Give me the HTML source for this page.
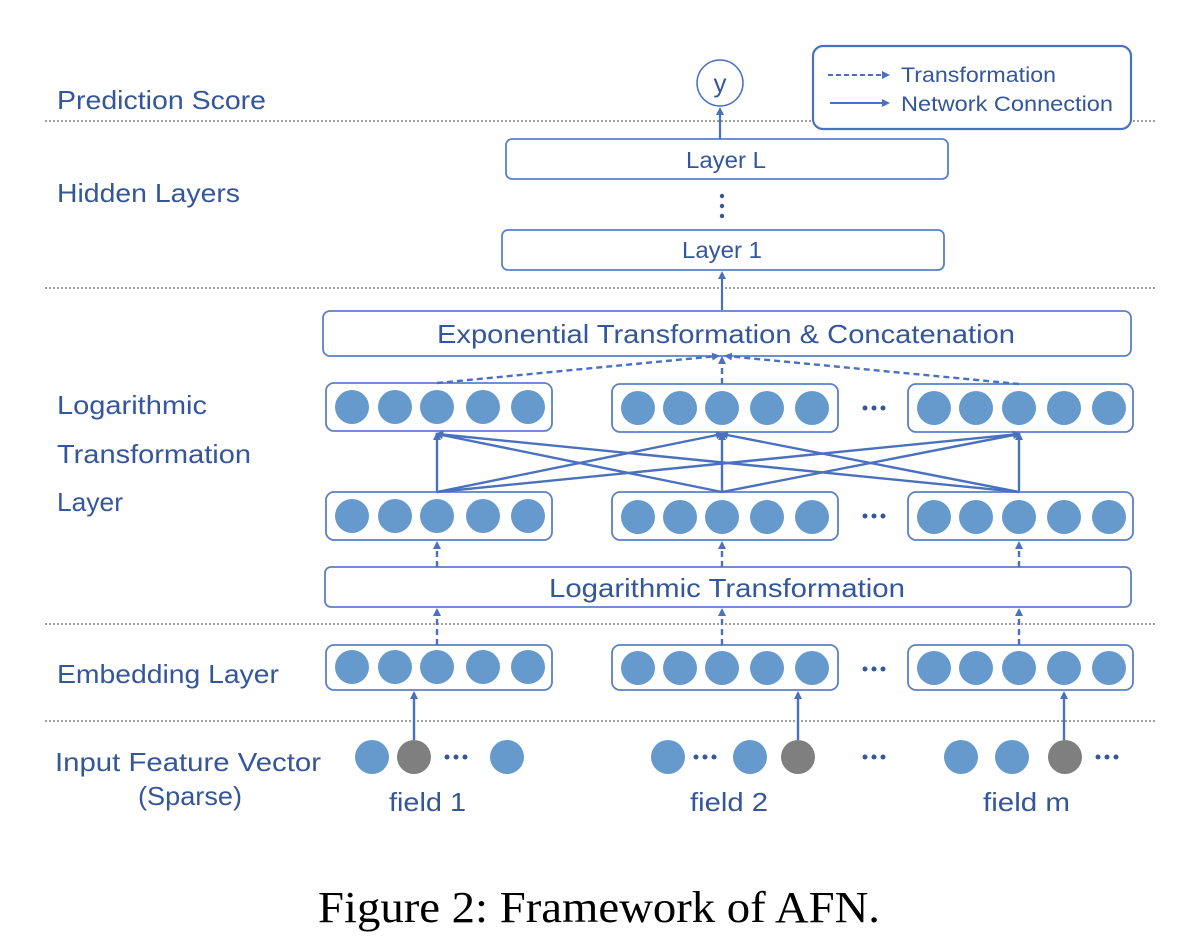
<!DOCTYPE html>
<html><head><meta charset="utf-8"><style>
html,body{margin:0;padding:0;background:#fff;}
svg{display:block;}
text{font-family:"Liberation Sans","DejaVu Sans",sans-serif;fill:#34569a;}
</style></head><body>
<svg width="1190" height="936" viewBox="0 0 1190 936" xmlns="http://www.w3.org/2000/svg">
<defs>
<marker id="ah" markerWidth="8" markerHeight="8" refX="6" refY="4" orient="auto" markerUnits="userSpaceOnUse">
<path d="M0,0 L8,4 L0,8 z" fill="#4a70c0"/>
</marker>
</defs>
<g stroke="#a0a0a0" stroke-width="2" stroke-dasharray="2,2">
<line x1="45" y1="121" x2="1155" y2="121"/>
<line x1="45" y1="288" x2="1155" y2="288"/>
<line x1="45" y1="624" x2="1155" y2="624"/>
<line x1="45" y1="721" x2="1155" y2="721"/>
</g>
<g font-size="26" lengthAdjust="spacingAndGlyphs">
<text x="57" y="109" textLength="209" lengthAdjust="spacingAndGlyphs">Prediction Score</text>
<text x="57" y="202" textLength="183" lengthAdjust="spacingAndGlyphs">Hidden Layers</text>
<text x="57" y="414" textLength="150" lengthAdjust="spacingAndGlyphs">Logarithmic</text>
<text x="57" y="463" textLength="194" lengthAdjust="spacingAndGlyphs">Transformation</text>
<text x="57" y="511" textLength="66" lengthAdjust="spacingAndGlyphs">Layer</text>
<text x="57" y="683" textLength="222" lengthAdjust="spacingAndGlyphs">Embedding Layer</text>
<text x="55" y="771" textLength="266" lengthAdjust="spacingAndGlyphs">Input Feature Vector</text>
<text x="138" y="805" textLength="104" lengthAdjust="spacingAndGlyphs">(Sparse)</text>
</g>
<!-- legend -->
<rect x="813" y="46" width="318" height="83" rx="10" fill="#fff" stroke="#4a70c0" stroke-width="2.2"/>
<line x1="828" y1="75" x2="888" y2="75" stroke="#4a70c0" stroke-width="2" stroke-dasharray="5,3" marker-end="url(#ah)"/>
<line x1="830" y1="103" x2="888" y2="103" stroke="#4a70c0" stroke-width="2" marker-end="url(#ah)"/>
<text x="901" y="82" font-size="21" textLength="155" lengthAdjust="spacingAndGlyphs">Transformation</text>
<text x="901" y="111" font-size="21" textLength="212" lengthAdjust="spacingAndGlyphs">Network Connection</text>
<!-- y -->
<circle cx="720" cy="83" r="23" fill="#fff" stroke="#4a70c0" stroke-width="1.5"/>
<text x="720" y="92" font-size="26" text-anchor="middle">y</text>
<g fill="#fff" stroke="#5a80c8" stroke-width="1.8">
<rect x="506" y="139" width="442" height="40" rx="6"/>
<rect x="502" y="230" width="442" height="40" rx="6"/>
<rect x="323" y="311" width="808" height="45" rx="7"/>
<rect x="325" y="567" width="806" height="40" rx="6"/>
</g>
<text x="686" y="168" font-size="23" textLength="80" lengthAdjust="spacingAndGlyphs">Layer L</text>
<text x="682" y="258" font-size="23" textLength="80" lengthAdjust="spacingAndGlyphs">Layer 1</text>
<text x="437" y="343" font-size="26" textLength="578" lengthAdjust="spacingAndGlyphs">Exponential Transformation &amp; Concatenation</text>
<text x="549" y="597" font-size="26" textLength="356" lengthAdjust="spacingAndGlyphs">Logarithmic Transformation</text>
<g fill="#34569a"><circle cx="722" cy="196" r="2.2"/><circle cx="722" cy="206" r="2.2"/><circle cx="722" cy="216" r="2.2"/></g>
<g stroke="#4a70c0" stroke-width="2.2" fill="none">
<line x1="720" y1="139" x2="720" y2="109" marker-end="url(#ah)"/>
<line x1="722" y1="310" x2="722" y2="273" marker-end="url(#ah)"/>
</g>
<!-- groups -->
<g fill="#fff" stroke="#5a80c8" stroke-width="1.8">
<rect x="326" y="383" width="226" height="48" rx="8"/>
<rect x="612" y="384" width="226" height="48" rx="8"/>
<rect x="908" y="384" width="225" height="48" rx="8"/>
<rect x="326" y="492" width="226" height="48" rx="8"/>
<rect x="612" y="492" width="226" height="48" rx="8"/>
<rect x="908" y="492" width="225" height="48" rx="8"/>
<rect x="326" y="645" width="226" height="45" rx="8"/>
<rect x="612" y="645" width="226" height="45" rx="8"/>
<rect x="908" y="645" width="225" height="45" rx="8"/>
</g>
<g fill="#6699cc">
<g id="r1">
<circle cx="352" cy="407" r="17"/><circle cx="395" cy="407" r="17"/><circle cx="437" cy="407" r="17"/><circle cx="483" cy="407" r="17"/><circle cx="528" cy="407" r="17"/>
<circle cx="638" cy="408" r="17"/><circle cx="680" cy="408" r="17"/><circle cx="722" cy="408" r="17"/><circle cx="767" cy="408" r="17"/><circle cx="812" cy="408" r="17"/>
<circle cx="934" cy="408" r="17"/><circle cx="976" cy="408" r="17"/><circle cx="1019" cy="408" r="17"/><circle cx="1064" cy="408" r="17"/><circle cx="1109" cy="408" r="17"/>
</g>
<use href="#r1" y="109"/>
<use href="#r1" y="260"/>
<circle cx="372" cy="757" r="17"/><circle cx="507" cy="757" r="17"/>
<circle cx="668" cy="757" r="17"/><circle cx="750" cy="757" r="17"/>
<circle cx="961" cy="757" r="17"/><circle cx="1012" cy="757" r="17"/>
</g>
<g fill="#7f7f7f">
<circle cx="414" cy="757" r="17"/><circle cx="798" cy="757" r="17"/><circle cx="1065" cy="757" r="17"/>
</g>
<g fill="#34569a">
<g id="dots"><circle cx="447" cy="757" r="2.5"/><circle cx="456" cy="757" r="2.5"/><circle cx="465" cy="757" r="2.5"/></g>
<use href="#dots" x="249"/>
<use href="#dots" x="418"/>
<use href="#dots" x="651"/>
<use href="#dots" x="418" y="-88"/>
<use href="#dots" x="418" y="-241"/>
<use href="#dots" x="418" y="-349"/>
</g>
<!-- connections -->
<g stroke="#4a70c0" stroke-width="2.4" fill="none">
<line x1="414" y1="740" x2="414" y2="693" marker-end="url(#ah)"/>
<line x1="798" y1="740" x2="798" y2="693" marker-end="url(#ah)"/>
<line x1="1064" y1="740" x2="1064" y2="693" marker-end="url(#ah)"/>
<g>
<line x1="437" y1="492" x2="437" y2="434" marker-end="url(#ah)"/>
<line x1="437" y1="492" x2="722" y2="434" marker-end="url(#ah)"/>
<line x1="437" y1="492" x2="1019" y2="434" marker-end="url(#ah)"/>
<line x1="722" y1="492" x2="437" y2="434" marker-end="url(#ah)"/>
<line x1="722" y1="492" x2="722" y2="434" marker-end="url(#ah)"/>
<line x1="722" y1="492" x2="1019" y2="434" marker-end="url(#ah)"/>
<line x1="1019" y1="492" x2="437" y2="434" marker-end="url(#ah)"/>
<line x1="1019" y1="492" x2="722" y2="434" marker-end="url(#ah)"/>
<line x1="1019" y1="492" x2="1019" y2="434" marker-end="url(#ah)"/>
</g>
<g stroke-dasharray="6,4">
<line x1="437" y1="645" x2="437" y2="610" marker-end="url(#ah)"/>
<line x1="722" y1="645" x2="722" y2="610" marker-end="url(#ah)"/>
<line x1="1019" y1="645" x2="1019" y2="610" marker-end="url(#ah)"/>
<line x1="437" y1="567" x2="437" y2="543" marker-end="url(#ah)"/>
<line x1="722" y1="567" x2="722" y2="543" marker-end="url(#ah)"/>
<line x1="1019" y1="567" x2="1019" y2="543" marker-end="url(#ah)"/>
<line x1="437" y1="383" x2="718" y2="356" marker-end="url(#ah)"/>
<line x1="722" y1="384" x2="722" y2="358" marker-end="url(#ah)"/>
<line x1="1019" y1="384" x2="726" y2="356" marker-end="url(#ah)"/>
</g>
</g>
<g font-size="26">
<text x="389" y="811" textLength="77" lengthAdjust="spacingAndGlyphs">field 1</text>
<text x="690" y="811" textLength="78" lengthAdjust="spacingAndGlyphs">field 2</text>
<text x="983" y="811" textLength="87" lengthAdjust="spacingAndGlyphs">field m</text>
</g>
<text x="318" y="922" font-size="44" style="font-family:'Liberation Serif',serif;fill:#000" textLength="562" lengthAdjust="spacingAndGlyphs">Figure 2: Framework of AFN.</text>
</svg>
</body></html>
